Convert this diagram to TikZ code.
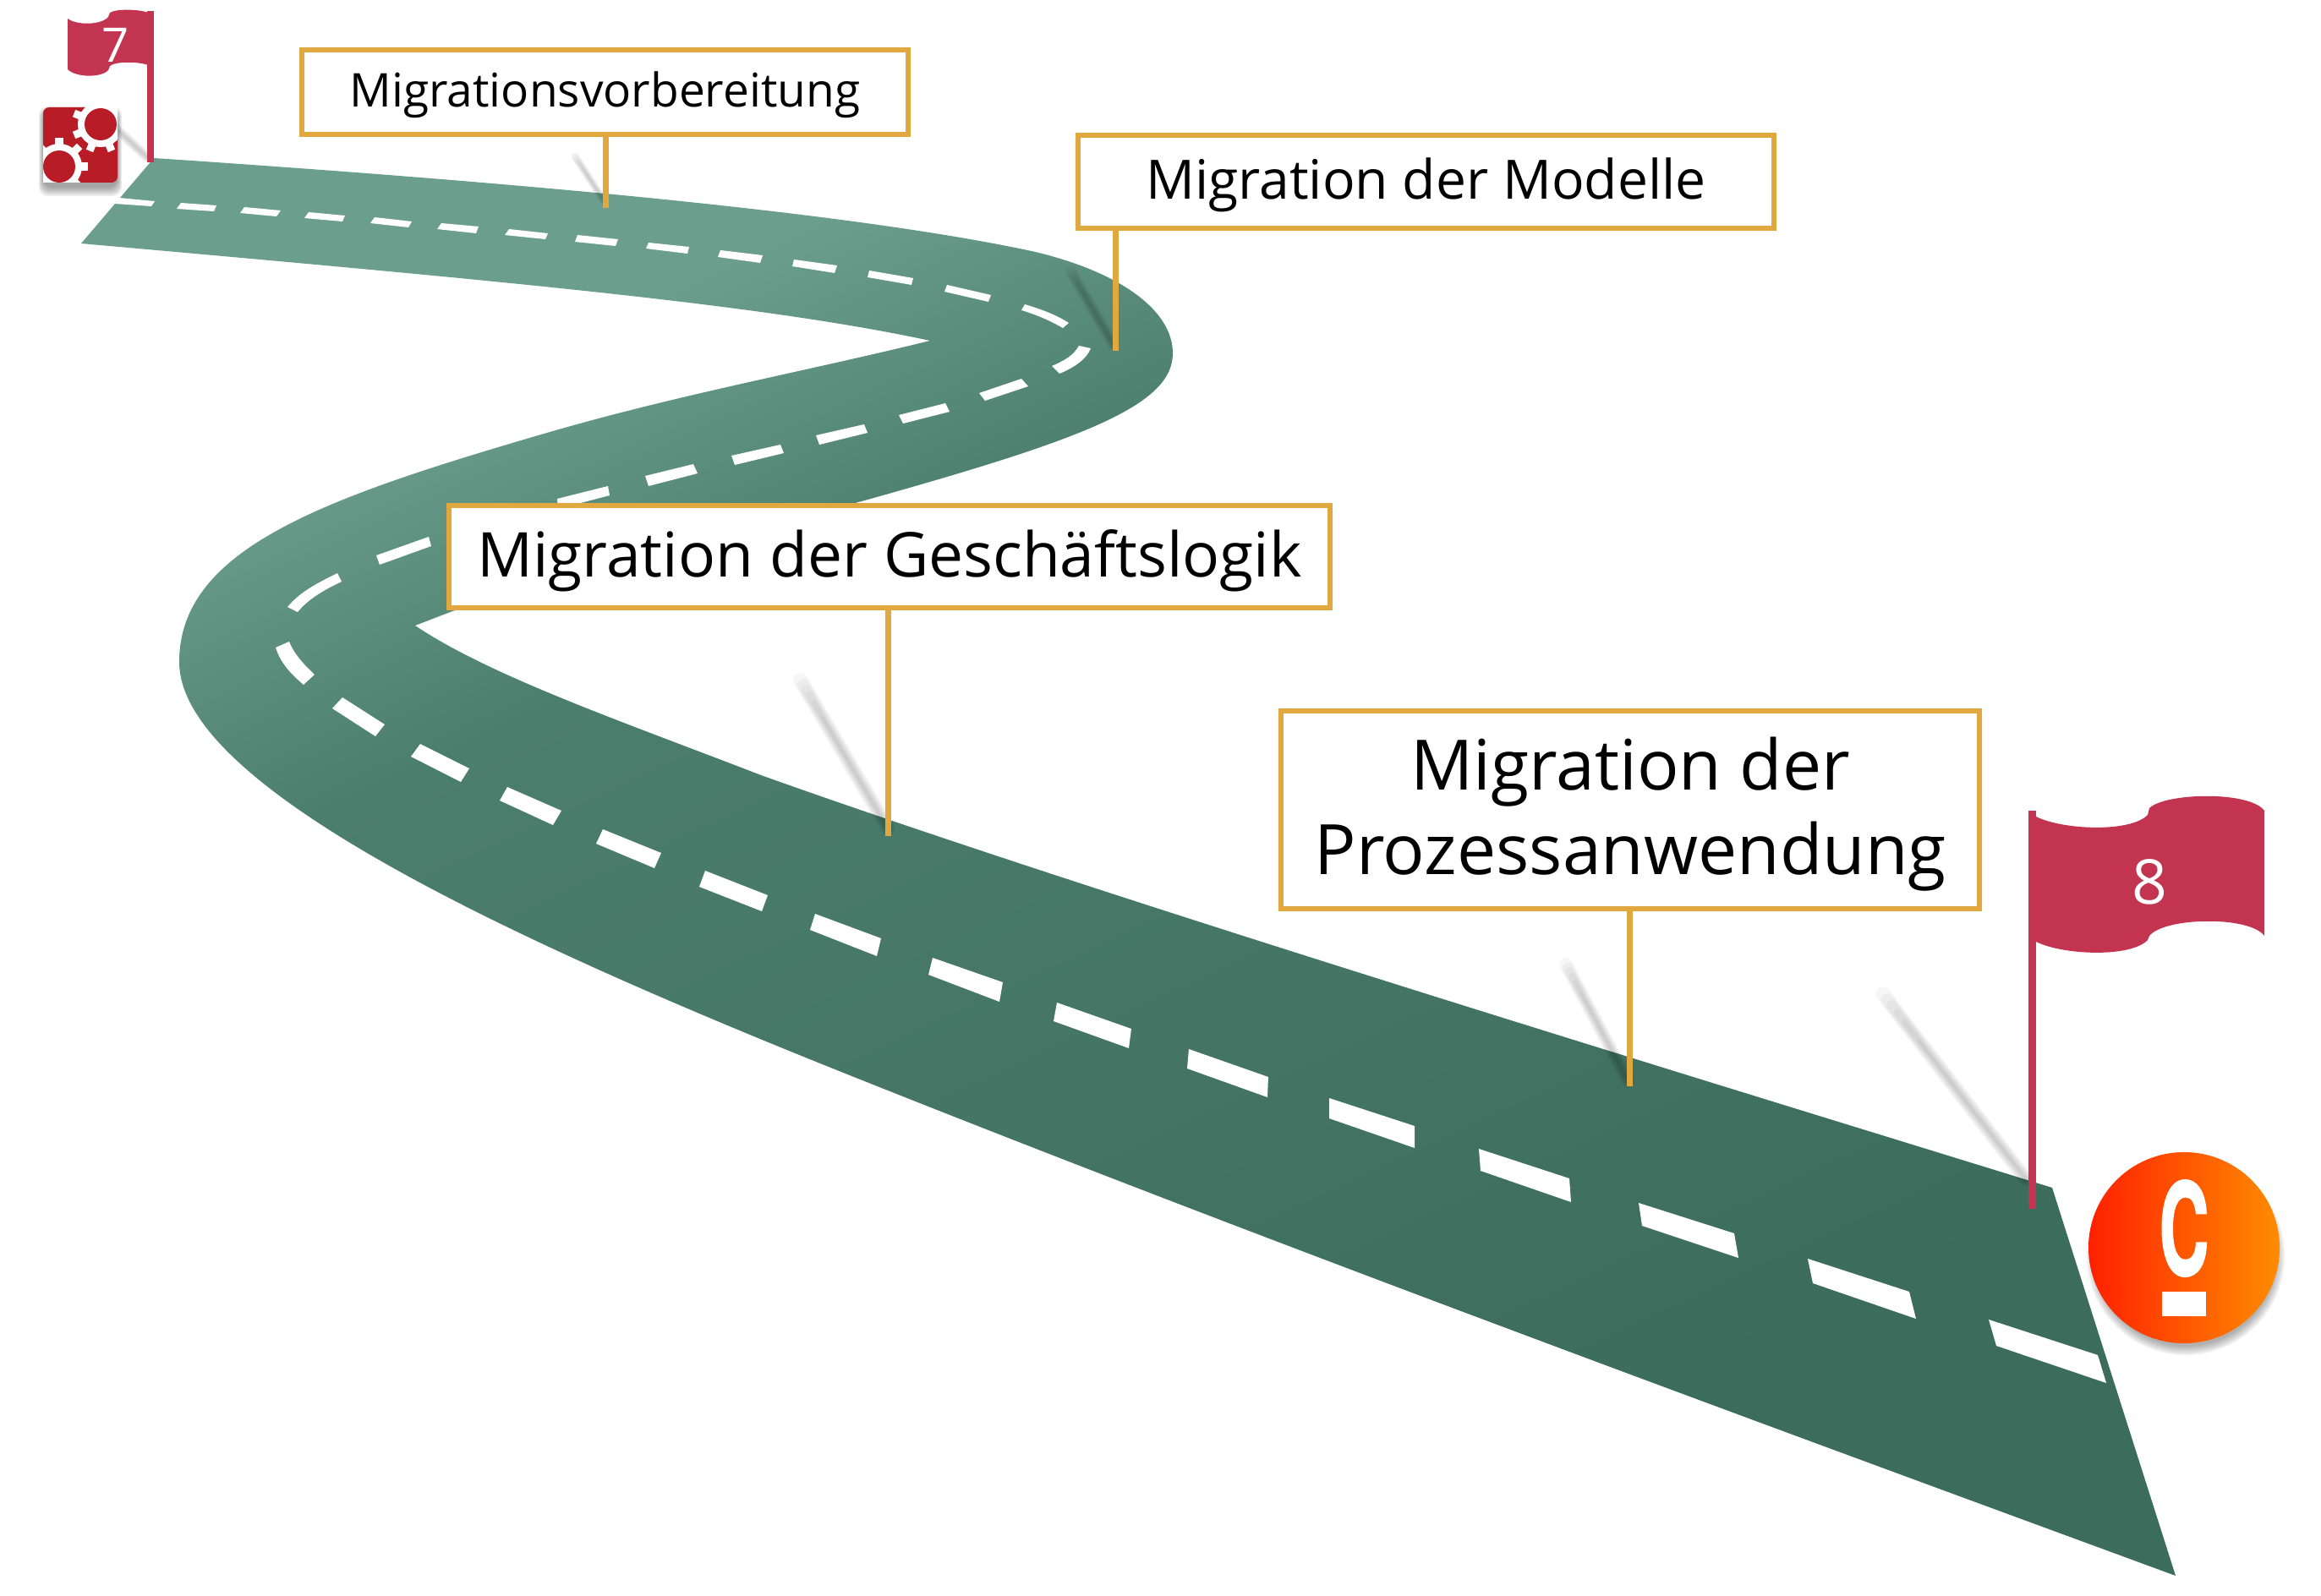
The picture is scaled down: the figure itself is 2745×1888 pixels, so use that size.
\documentclass[tikz,border=0pt]{standalone}
\usepackage{fontspec}
\usepackage{xcolor}
\setmainfont{Open Sans}
\newfontfamily\logofont[BoldFeatures={FakeBold=1.5}]{TeX Gyre Heros}
\usetikzlibrary{calc,positioning}
\definecolor{roadlight}{HTML}{6C9E8D}
\definecolor{roadmid}{HTML}{4C7E6E}
\definecolor{roaddark}{HTML}{3C6C5C}
\definecolor{gold}{HTML}{E0A83E}
\definecolor{flagred}{HTML}{C23450}
\definecolor{gearred}{HTML}{B71C27}
\pgfdeclarehorizontalshading{roadshade}{100bp}{color(0bp)=(roadlight); color(28bp)=(roadlight); color(38bp)=(roadmid); color(72bp)=(roaddark); color(100bp)=(roaddark)}
\tikzset{
  stage/.style={draw=gold,fill=white,line width=.06cm,outer sep=0pt,inner sep=0pt,align=center},
  lead/.style={draw=gold,line width=.07cm},
  streak/.style={draw=black,opacity=.035,line cap=round},
  flagtext/.style={text=white,inner sep=0pt},
  lane/.style={fill=white}
}
\begin{document}
\begin{tikzpicture}[x=0.01cm,y=-0.01cm]
  \useasboundingbox (0,0) rectangle (2745,1888);
  \shade [shading=roadshade,shading angle=-65]
    (182,187) .. controls (600,215) and (1000,250) .. (1220,297)
    .. controls (1320,320) and (1387,365) .. (1387,418)
    .. controls (1387,480) and (1280,520) .. (1019,593)
    -- (535,723) -- (491,740)
    .. controls (580,800) and (740,855) .. (900,917)
    .. controls (1300,1060) and (2000,1273) .. (2427,1405)
    -- (2573,1864)
    .. controls (2100,1690) and (1500,1470) .. (1000,1270)
    .. controls (600,1110) and (212,930) .. (212,783)
    .. controls (212,650) and (380,590) .. (640,514)
    .. controls (800,467) and (950,440) .. (1100,403)
    .. controls (900,360) and (600,333) .. (96,288)
    -- cycle;
  \foreach \fx/\fy/\nx/\ny/\s in {680/185/716/240/.55,1267/322/1317/408/.8,947/805/1050/980/1,1852/1141/1925/1278/.9,2227/1176/2396/1395/1,135/150/174/186/.7} {
    \foreach \w/\t in {5/1,4.2/.97,3.4/.94,2.6/.9,1.8/.85,1/.75} {
      \draw [streak,line width=\s*\w pt] ($(\nx,\ny)!\t!(\fx,\fy)$) -- (\nx,\ny);
    }
  }
  \foreach \ax/\ay/\bx/\by/\cx/\cy/\dx/\dy in {
    141/234/183/238/179/244/136/241, 214/240/256/243/253/250/209/247,
    289/245/332/249/327/256/284/252, 365/251/408/255/405/262/360/258,
    443/257/487/262/483/269/438/264, 522/264/566/268/563/276/517/271,
    602/271/648/276/645/283/597/278, 683/278/731/283/728/291/680/286,
    767/287/815/292/813/300/764/294, 852/296/902/302/899/311/849/304,
    939/307/990/314/987/323/937/315, 1028/320/1080/329/1078/337/1026/328,
    1120/337/1172/349/1169/357/1117/345, 1158/465/1208/448/1216/457/1165/474,
    1063/491/1118/477/1123/487/1068/501, 965/515/1022/502/1026/512/969/526,
    865/539/923/526/927/536/869/550, 763/563/820/549/825/560/767/575,
    659/590/719/575/721/586/660/602, 445/657/507/635/510/646/449/668,
    405/825/455/857/444/871/393/838, 497/880/555/909/545/925/486/895,
    600/931/664/959/654/976/591/947, 713/981/782/1009/774/1027/705/998,
    834/1030/908/1059/901/1078/827/1049, 964/1081/1042/1110/1037/1131/958/1100,
    1103/1133/1186/1162/1182/1185/1098/1153, 1250/1186/1338/1217/1335/1240/1246/1208,
    1406/1241/1500/1274/1499/1298/1404/1264, 1572/1299/1673/1332/1673/1358/1572/1323,
    1749/1359/1856/1394/1858/1422/1751/1385, 1938/1423/2051/1459/2056/1488/1942/1450,
    2138/1489/2258/1528/2266/1560/2144/1518, 2352/1561/2481/1603/2491/1636/2361/1592} {
    \fill [lane] (\ax,\ay) -- (\bx,\by) -- (\cx,\cy) -- (\dx,\dy) -- cycle;
  }
  \fill [lane] (1212,360) .. controls (1235,367) and (1250,373) .. (1264,382) -- (1257,388) .. controls (1243,380) and (1228,373) .. (1208,367) -- cycle;
  \fill [lane] (1276,409) -- (1290,412) .. controls (1285,425) and (1270,435) .. (1253,442) -- (1244,433) .. controls (1260,426) and (1270,420) .. (1276,409) -- cycle;
  \fill [lane] (340,718) .. controls (355,700) and (375,690) .. (399,678) -- (404,688) .. controls (385,697) and (365,708) .. (352,724) -- cycle;
  \fill [lane] (326,766) .. controls (332,785) and (345,798) .. (359,810) -- (372,798) .. controls (358,785) and (347,772) .. (342,759) -- cycle;

  \foreach \g in {0,2,...,10} {
    \fill [black,opacity=.07,rounded corners=3] (51-\g/2,131-\g/2) rectangle (139+\g/2,222+\g);
  }
  \fill [gearred,rounded corners=2] (51,127) rectangle (139,216);
  \begin{scope}
    \clip (51,127) rectangle (139,216);
    \fill [white] (119,147) circle (27);
    \fill [white] (70,197) circle (27);
    \foreach \a in {0,45,...,315} {
      \draw [white,line width=.09cm] (119,147) -- ++(\a+22.5:34);
      \draw [white,line width=.09cm] (70,197) -- ++(\a:34);
    }
    \fill [gearred] (119,147) circle (19);
    \fill [gearred] (70,197) circle (19);
  \end{scope}

  \fill [flagred] (174,13) rectangle (182,192);
  \fill [flagred] (175,15) .. controls (165,11) and (138,10) .. (130,15) -- (128,20) .. controls (120,30) and (90,30) .. (80,22) -- (80,82) .. controls (90,92) and (120,92) .. (128,83) -- (130,78) .. controls (138,72) and (165,73) .. (175,77) -- cycle;
  \node [flagtext,font=\fontsize{16}{16}\selectfont] (seven) at (137,53) {7};
  \fill [flagred] (2399,959) rectangle (2408,1430);
  \fill [flagred] (2408,966) .. controls (2440,982) and (2520,985) .. (2540,964) -- (2542,956) .. controls (2560,938) and (2660,935) .. (2678,959) -- (2678,1107) .. controls (2660,1083) and (2560,1085) .. (2542,1107) -- (2540,1112) .. controls (2520,1133) and (2440,1130) .. (2408,1114) -- cycle;
  \node [flagtext,font=\fontsize{20.8}{20.8}\selectfont] (eight) at (2542,1043) {8};

  \foreach \g in {0,2,...,10} {
    \fill [black,opacity=.06] (2585,1486) circle (107+\g);
  }
  \node [circle,minimum size=2.26cm,inner sep=0pt,outer sep=0pt,left color={rgb,255:red,255;green,32;blue,0},middle color={rgb,255:red,255;green,64;blue,0},right color={rgb,255:red,255;green,140;blue,0}] (logo) at (2583,1476) {};
  \node [flagtext,xscale=.54,font=\logofont\bfseries\fontsize{43}{43}\selectfont] (logoc) at (2583,1453) {C};
  \fill [lane] (2557,1528) rectangle (2609,1557);

  \node [stage,minimum width=7.17cm,minimum height=1cm,text depth=1.7pt,font=\fontsize{15.65}{15.65}\selectfont] (vorbereitung) at (715.5,109) {Migrationsvorbereitung};
  \node [stage,minimum width=8.23cm,minimum height=1.1cm,text depth=2.3pt,font=\fontsize{18.25}{18.25}\selectfont] (modelle) at (1686.5,215) {Migration der Modelle};
  \node [stage,minimum width=10.42cm,minimum height=1.21cm,text depth=2.2pt,font=\fontsize{20.8}{20.8}\selectfont] (logik) at (1052,658.5) {Migration der Geschäftslogik};
  \node [stage,minimum width=8.26cm,minimum height=2.34cm,text depth=2.6pt,font=\fontsize{23.4}{28.45}\selectfont] (prozess) at (1928,958) {Migration der\\Prozessanwendung};

  \coordinate (endvorbereitung) at (716,246);
  \coordinate (endmodelle) at (1319,415);
  \coordinate (endlogik) at (1050,989);
  \coordinate (endprozess) at (1927,1285);
  \draw [lead] (endvorbereitung |- vorbereitung.south) -- (endvorbereitung);
  \draw [lead] (endmodelle |- modelle.south) -- (endmodelle);
  \draw [lead] (endlogik |- logik.south) -- (endlogik);
  \draw [lead] (endprozess |- prozess.south) -- (endprozess);
\end{tikzpicture}
\end{document}
